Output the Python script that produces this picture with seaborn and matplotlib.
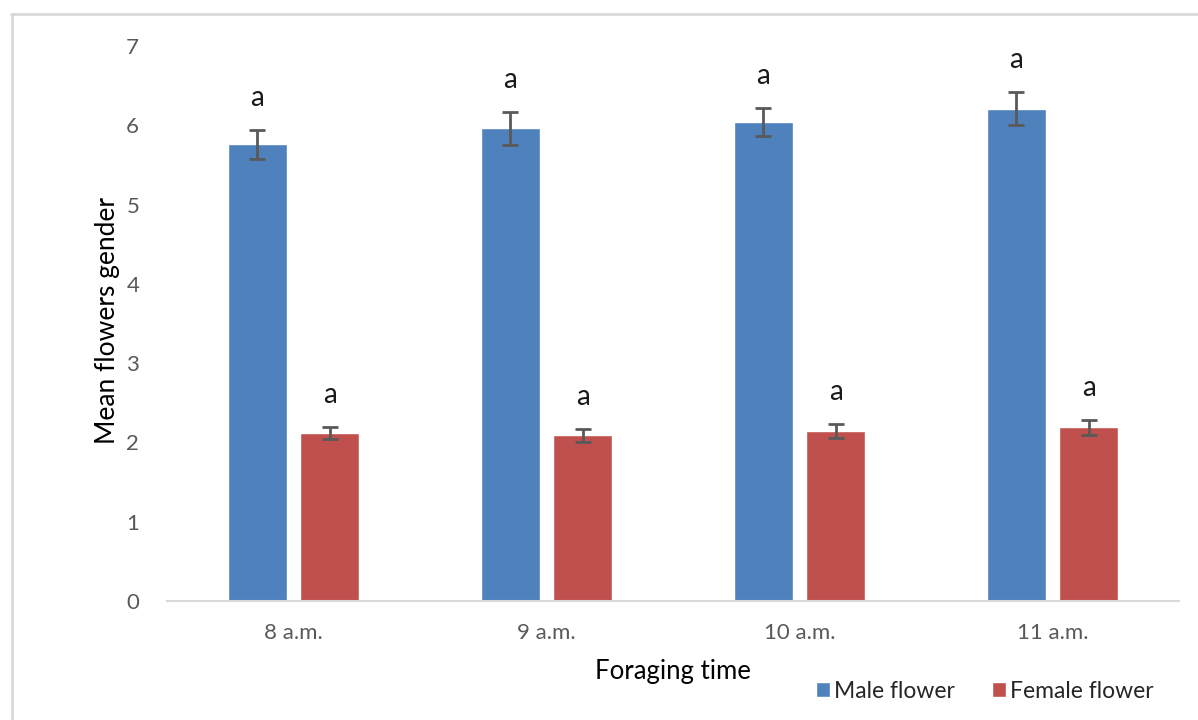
import pandas as pd
import seaborn as sns
from matplotlib import pyplot as plt
from matplotlib.lines import Line2D
from matplotlib.patches import Patch

# 数据
times = ["8 a.m.", "9 a.m.", "10 a.m.", "11 a.m."]
male_mean = [5.76, 5.96, 6.04, 6.21]
male_err = [0.18, 0.21, 0.18, 0.21]
female_mean = [2.12, 2.09, 2.14, 2.19]
female_err = [0.08, 0.08, 0.09, 0.09]
male_letters = ["a", "a", "a", "a"]
female_letters = ["a", "a", "a", "a"]

BLUE = "#4F81BD"
RED = "#C0504D"
GREY = "#595959"

sns.set_theme(style="white")
plt.rcParams['font.family'] = ['Lato', 'DejaVu Sans']

df = pd.DataFrame({
    "time": times * 2,
    "mean": male_mean + female_mean,
    "err": male_err + female_err,
    "gender": ["Male flower"] * 4 + ["Female flower"] * 4,
})

fig = plt.figure(figsize=(11.98, 7.2), dpi=100)
ax = fig.add_axes([167 / 1198, 1 - 601 / 720, 1012 / 1198, 555 / 720])

sns.barplot(data=df, x="time", y="mean", hue="gender", order=times,
            hue_order=["Male flower", "Female flower"],
            palette=[BLUE, RED], width=0.57, gap=0.19,
            errorbar=None, legend=False, ax=ax, saturation=1)

# 误差线和字母
for container, errs, letters in zip(ax.containers, [male_err, female_err],
                                     [male_letters, female_letters]):
    for bar, e, lab in zip(container, errs, letters):
        x = bar.get_x() + bar.get_width() / 2
        h = bar.get_height()
        ax.errorbar(x, h, yerr=e, color=GREY, capsize=6, capthick=2,
                    elinewidth=2, zorder=3)
        ax.annotate(lab, (x, h + e), xytext=(0, 23), textcoords="offset points",
                    ha="center", va="center", fontsize=20, color="#1a1a1a")

ax.set_xlim(-0.5, 3.5)
ax.set_ylim(0, 7)
ax.set_yticks(range(0, 8))
ax.tick_params(axis="both", length=0, labelsize=16, colors=GREY)
ax.tick_params(axis="y", pad=20)
ax.tick_params(axis="x", pad=16)
for s in ["top", "right", "left"]:
    ax.spines[s].set_visible(False)
ax.spines["bottom"].set_color("#d9d9d9")
ax.spines["bottom"].set_linewidth(1.5)

ax.set_xlabel("")
ax.set_ylabel("")
fig.text(108 / 1198, 1 - 320 / 720, "Mean flowers gender", rotation=90,
         ha="center", va="center", fontsize=19, color="black")
fig.text(673 / 1198, 1 - 672 / 720, "Foraging time",
         ha="center", va="center", fontsize=18.5, color="black")

handles = [Patch(facecolor=BLUE, label="Male flower"),
           Patch(facecolor=RED, label="Female flower")]
fig.legend(handles=handles, loc="center", bbox_to_anchor=(985 / 1198, 1 - 691 / 720),
           ncol=2, frameon=False, fontsize=16.5, handlelength=0.6, handleheight=0.6,
           handletextpad=0.2, columnspacing=1.6)

# 外框
fig.add_artist(Line2D([11 / 1198, 1], [1 - 14 / 720, 1 - 14 / 720],
                      transform=fig.transFigure, color="#d9d9d9", lw=2))
fig.add_artist(Line2D([12 / 1198, 12 / 1198], [0, 1 - 14 / 720],
                      transform=fig.transFigure, color="#d9d9d9", lw=2))

plt.savefig("out.png", dpi=100)
